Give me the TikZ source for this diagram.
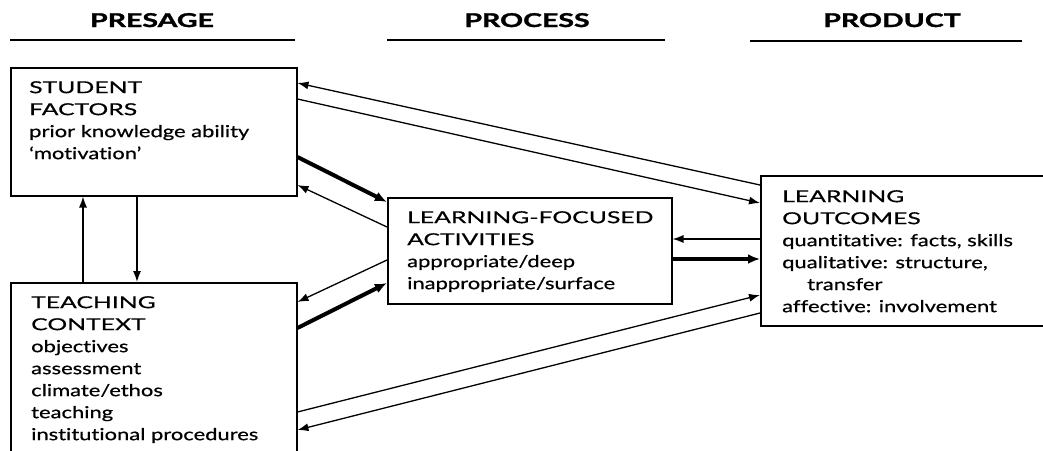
\documentclass[tikz,border=0pt]{standalone}
\usepackage{fontspec}
\setmainfont{Lato}[FakeStretch=1.33, FakeBold=0.6, Ligatures={TeX,NoCommon}]
\newfontfamily\capsfont{Lato}[FakeStretch=1.5, FakeBold=0.6, Ligatures={TeX,NoCommon}]
\newfontfamily\headfont{Lato}[UprightFont=* Bold, FakeStretch=1.5, FakeBold=1.6]
\usetikzlibrary{arrows.meta,calc}
\newcommand{\cp}[1]{{\capsfont #1}}
\begin{document}
\begin{tikzpicture}[x=1pt,y=-1pt,
  box/.style={draw, line width=1.5pt, inner sep=0pt, anchor=north west},
  body/.style={anchor=north west, inner sep=0pt, align=left,
    font=\fontsize{16.5}{22}\selectfont},
  head/.style={anchor=base, inner sep=0pt,
    font=\fontsize{19}{22}\selectfont\headfont},
  rule/.style={line width=1.5pt},
  thin/.style={line width=1.3pt, -{Latex[length=11pt,width=8pt]}},
  heavy/.style={line width=4pt, -{Latex[length=12pt,width=10pt]}}
]
\useasboundingbox (0,0) rectangle (1043,450);

% column headings
\node[head] (hpre) at (152,27) {PRESAGE};
\node[head] (hpro) at (527,27) {PROCESS};
\node[head] (hprd) at (892,27) {PRODUCT};
\draw[rule] (10,40) -- (295,40);
\draw[rule] (387,40) -- (665,40);
\draw[rule] (750,41) -- (1022,41);

% boxes
\node[box, minimum width=286pt, minimum height=128pt] (stu) at (10,67) {};
\node[box, minimum width=286pt, minimum height=178pt] (teach) at (10,282) {};
\node[box, minimum width=284pt, minimum height=106pt] (lfa) at (387,197) {};
\node[box, minimum width=300pt, minimum height=150pt] (lo) at (760,175) {};

% box contents
\node[body] (stuT) at (29,81) {\cp{STUDENT}\\\cp{FACTORS}\\prior knowledge ability\\`motivation'};
\node[body] (teachT) at (31,296) {\cp{TEACHING}\\\cp{CONTEXT}\\objectives\\assessment\\climate/ethos\\teaching\\institutional procedures};
\node[body] (lfaT) at (407,211) {\cp{LEARNING-FOCUSED}\\\cp{ACTIVITIES}\\appropriate/deep\\inappropriate/surface};
\node[body] (loT) at (782,190) {\cp{LEARNING}\\\cp{OUTCOMES}\\quantitative: facts, skills\\qualitative: structure,\\\hspace*{25pt}transfer\\affective: involvement};

% presage links
\draw[thin] ($(teach.north west)+(73,0)$) -- ($(stu.south west)+(73,0)$);
\draw[thin] ($(stu.south west)+(127,0)$) -- ($(teach.north west)+(127,0)$);

% student factors <-> activities and outcomes
\draw[thin] ($(lo.north west)+(0,10)$) -- ($(stu.north east)+(0,16)$);
\draw[thin] ($(stu.north east)+(0,32)$) -- ($(lo.north west)+(0,28)$);
\draw[heavy] ($(stu.north east)+(0,90)$) -- ($(lfa.north west)+(0,5)$);
\draw[thin] ($(lfa.north west)+(0,30)$) -- ($(stu.north east)+(0,118)$);

% teaching context <-> activities and outcomes
\draw[thin] ($(lfa.north west)+(0,63)$) -- ($(teach.north east)+(0,20)$);
\draw[heavy] ($(teach.north east)+(0,46)$) -- ($(lfa.north west)+(0,86)$);
\draw[thin] ($(teach.north east)+(0,130)$) -- ($(lo.north west)+(0,120)$);
\draw[thin] ($(lo.north west)+(0,138)$) -- ($(teach.north east)+(0,148)$);

% activities <-> outcomes
\draw[thin] ($(lo.north west)+(0,64)$) -- ($(lfa.north east)+(0,42)$);
\draw[heavy] ($(lfa.north east)+(0,62)$) -- ($(lo.north west)+(0,84)$);
\end{tikzpicture}
\end{document}
